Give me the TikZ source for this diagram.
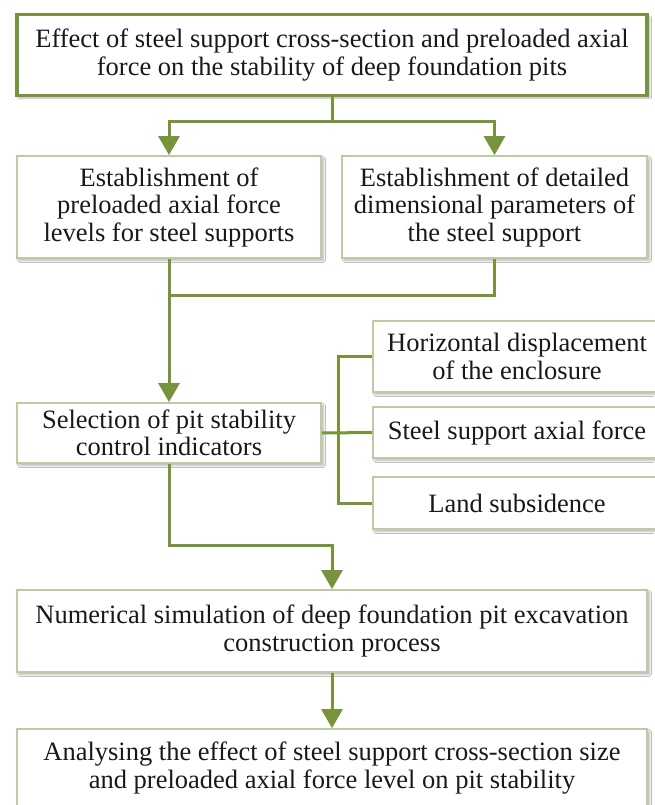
\documentclass[tikz,border=0pt]{standalone}
\usepackage{fontspec}
\setmainfont{Liberation Serif}
\usetikzlibrary{arrows.meta,shadows.blur,calc}
\definecolor{dgreen}{RGB}{119,147,60}
\definecolor{pgreen}{RGB}{190,203,160}
\begin{document}
\begin{tikzpicture}[x=1pt,y=-1pt,
  txt/.style={font=\fontsize{26.5}{27.5}\selectfont, align=center, text=black!90},
  shade/.style={blur shadow={shadow xshift=2.5pt, shadow yshift=-2.5pt, shadow blur steps=6, shadow opacity=28}},
  mainbox/.style={txt, draw=dgreen, line width=3.5pt, fill=white, shade, inner sep=0pt},
  subbox/.style={txt, draw=pgreen, line width=1.8pt, fill=white, shade, inner sep=0pt},
  lnk/.style={draw=dgreen, line width=3pt},
  arr/.style={lnk, -{Triangle[width=21pt,length=19pt]}}]
\useasboundingbox (0,0) rectangle (654,805);
\fill[white] (0,0) rectangle (654,805);

\node[mainbox, minimum width=630pt, minimum height=81pt] (top) at (332,55)
  {Effect of steel support cross-section and preloaded axial\\force on the stability of deep foundation pits};
\node[subbox, minimum width=304pt, minimum height=102pt] (L2) at (169,207)
  {Establishment of\\preloaded axial force\\levels for steel supports};
\node[subbox, minimum width=305pt, minimum height=102pt] (R2) at (494.5,207)
  {Establishment of detailed\\dimensional parameters of\\the steel support};
\node[subbox, minimum width=304pt, minimum height=60pt] (Sel) at (169,433)
  {Selection of pit stability\\control indicators};
\node[subbox, minimum width=288pt, minimum height=71pt] (HD) at (517,356.5)
  {Horizontal displacement\\of the enclosure};
\node[subbox, minimum width=288pt, minimum height=51pt] (SA) at (517,432.5)
  {Steel support axial force};
\node[subbox, minimum width=288pt, minimum height=52pt] (LS) at (517,503)
  {Land subsidence};
\node[subbox, minimum width=630pt, minimum height=82pt] (Num) at (332,631)
  {Numerical simulation of deep foundation pit excavation\\construction process};
\node[subbox, minimum width=630pt, minimum height=78pt] (Bot) at (332,768)
  {Analysing the effect of steel support cross-section size\\and preloaded axial force level on pit stability};

\coordinate (j1) at (332,122);
\coordinate (j2) at (170,295);
\coordinate (bx) at (338,433);
\coordinate (j3) at (332,545);

\draw[lnk] (top.south) -- (j1);
\draw[arr] (j1) -| (L2.north);
\draw[arr] (j1) -| (R2.north);
\draw[lnk] (L2.south) -- (L2.south |- j2) -| (R2.south);
\draw[arr] (L2.south |- j2) -- (Sel.north);
\draw[lnk] (Sel.east) -- (SA.west);
\draw[lnk] (HD.west) -| (bx) |- (LS.west);
\draw[arr] (Sel.south) |- (j3) -- (Num.north);
\draw[arr] (Num.south) -- (Bot.north);
\end{tikzpicture}
\end{document}
